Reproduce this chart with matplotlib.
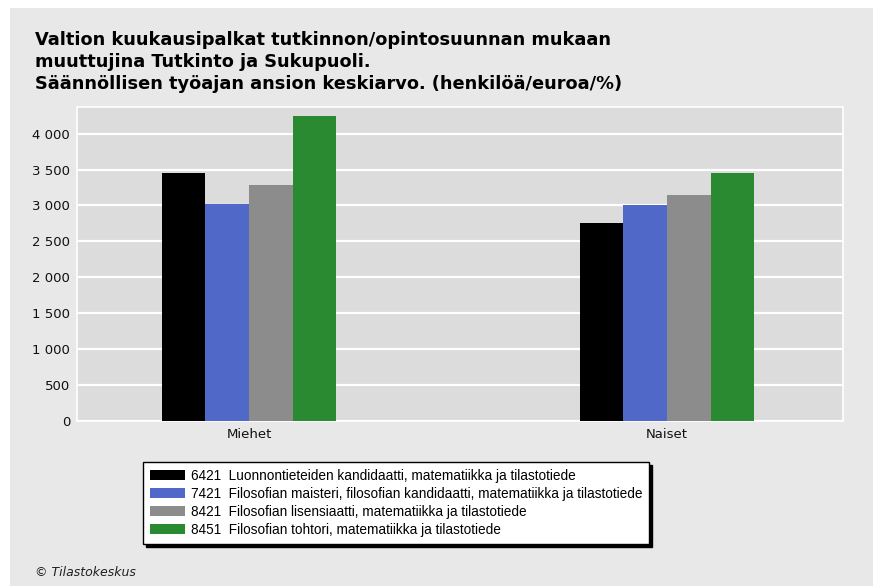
import matplotlib.pyplot as plt
from matplotlib.patches import Rectangle
from matplotlib.ticker import FuncFormatter
import numpy as np

# Keskimääräiset kuukausipalkat (euroa)
ryhmat = ['Miehet', 'Naiset']
koodit = ['6421', '7421', '8421', '8451']
tutkinnot = [
    'Luonnontieteiden kandidaatti, matematiikka ja tilastotiede',
    'Filosofian maisteri, filosofian kandidaatti, matematiikka ja tilastotiede',
    'Filosofian lisensiaatti, matematiikka ja tilastotiede',
    'Filosofian tohtori, matematiikka ja tilastotiede',
]
palkat = [
    [3456, 2760],
    [3024, 3002],
    [3285, 3141],
    [4247, 3456],
]
varit = ['#000000', '#5068c8', '#8c8c8c', '#2a8a32']

fig = plt.figure(figsize=(8.73, 5.86), dpi=100)
fig.patch.set_facecolor('white')
# harmaa tausta koko kuvalle
fig.patches.append(Rectangle((10 / 873, 0), 1, 1 - 8 / 586, transform=fig.transFigure,
                             facecolor='#e8e8e8', edgecolor='none', zorder=-5))

ax = fig.add_axes([77 / 873, 165 / 586, 766 / 873, 314 / 586])
ax.set_facecolor('#dcdcdc')

x = np.arange(len(ryhmat))
w = 0.1045
for i in range(len(koodit)):
    ax.bar(x + (i - 1.5) * w, palkat[i], width=w, color=varit[i],
           label=f'{koodit[i]}  {tutkinnot[i]}', zorder=3)

ax.set_xlim(-0.4115, 1.421)
ax.set_ylim(0, 4370)
ax.set_yticks(range(0, 4001, 500))
ax.yaxis.set_major_formatter(FuncFormatter(lambda v, p: f'{int(v):,}'.replace(',', ' ')))
ax.set_xticks(x)
ax.set_xticklabels(ryhmat)
ax.tick_params(length=0, labelsize=9.5, pad=5, colors='#111111')
ax.grid(axis='y', color='white', linewidth=1.6, zorder=1)
for s in ax.spines.values():
    s.set_color('white')
    s.set_linewidth(1.2)

fig.text(35 / 873, 1 - 31 / 586,
         'Valtion kuukausipalkat tutkinnon/opintosuunnan mukaan\n'
         'muuttujina Tutkinto ja Sukupuoli.\n'
         'Säännöllisen työajan ansion keskiarvo. (henkilöä/euroa/%)',
         fontsize=12.8, fontweight='bold', va='top', ha='left', linespacing=1.3)

leg = fig.legend(loc='upper left', bbox_to_anchor=(143 / 873, 1 - 462 / 586),
                 ncol=1, frameon=True, fancybox=False, borderaxespad=0,
                 shadow={'color': 'black', 'alpha': 1},
                 prop={'family': 'Liberation Sans', 'size': 9.8},
                 handlelength=2.6, handleheight=0.75, handletextpad=0.4,
                 labelspacing=0.3, borderpad=0.5)
leg.get_frame().set_edgecolor('black')
leg.get_frame().set_linewidth(1)
leg.get_frame().set_facecolor('white')

fig.text(35 / 873, 1 - 572 / 586, '© Tilastokeskus', fontsize=9, style='italic',
         va='center', ha='left', color='#202020')

fig.savefig('out.png', dpi=100)
